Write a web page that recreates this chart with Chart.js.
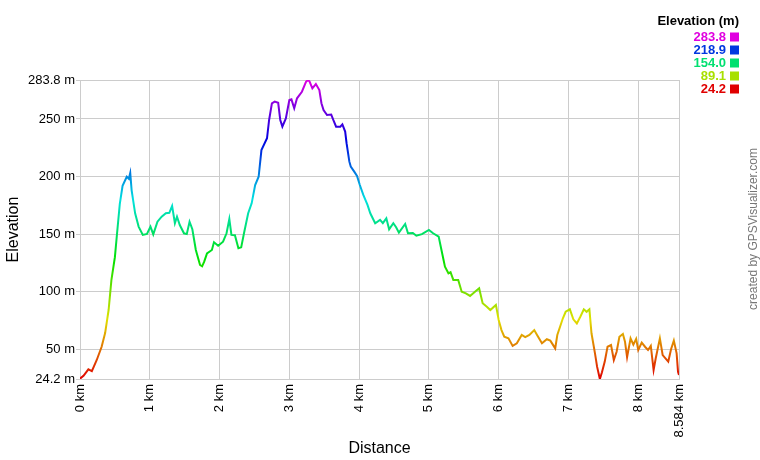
<!DOCTYPE html>
<html>
<head>
<meta charset="utf-8">
<script src="https://cdn.jsdelivr.net/npm/chart.js@4/dist/chart.umd.min.js"></script>
<style>
  body { margin: 0; background: #fff; }
  #wrap { width: 760px; height: 460px; }
</style>
</head>
<body>
<div id="wrap"><canvas id="elevChart" width="760" height="460"></canvas></div>
<script>
// distance along the track (km) and elevation (m)
const distKm = [0.00, 0.05, 0.12, 0.17, 0.24, 0.31, 0.36, 0.41, 0.45, 0.50, 0.53, 0.57, 0.61, 0.67, 0.70, 0.72, 0.74, 0.79, 0.84, 0.90,
  0.96, 1.01, 1.05, 1.11, 1.17, 1.23, 1.28, 1.32, 1.36, 1.39, 1.43, 1.49, 1.53, 1.57, 1.61, 1.66, 1.72, 1.75, 1.78, 1.82,
  1.89, 1.92, 1.98, 2.05, 2.10, 2.14, 2.17, 2.22, 2.27, 2.31, 2.35, 2.41, 2.46, 2.51, 2.56, 2.60, 2.68, 2.71, 2.75, 2.79,
  2.84, 2.87, 2.90, 2.95, 3.00, 3.03, 3.07, 3.11, 3.18, 3.24, 3.27, 3.29, 3.33, 3.38, 3.43, 3.46, 3.49, 3.54, 3.60, 3.63,
  3.67, 3.73, 3.76, 3.80, 3.82, 3.86, 3.88, 3.93, 3.97, 4.01, 4.06, 4.12, 4.16, 4.23, 4.30, 4.34, 4.39, 4.43, 4.49, 4.53,
  4.57, 4.66, 4.70, 4.77, 4.82, 4.90, 5.00, 5.06, 5.14, 5.18, 5.23, 5.28, 5.31, 5.35, 5.42, 5.47, 5.53, 5.59, 5.66, 5.72,
  5.77, 5.83, 5.88, 5.96, 6.00, 6.04, 6.08, 6.14, 6.20, 6.26, 6.33, 6.38, 6.44, 6.51, 6.55, 6.62, 6.69, 6.74, 6.81, 6.84,
  6.92, 6.96, 7.02, 7.07, 7.12, 7.17, 7.22, 7.26, 7.30, 7.33, 7.38, 7.41, 7.45, 7.48, 7.52, 7.56, 7.61, 7.65, 7.69, 7.73,
  7.78, 7.81, 7.84, 7.89, 7.93, 7.97, 8.00, 8.05, 8.10, 8.14, 8.18, 8.22, 8.25, 8.31, 8.35, 8.43, 8.47, 8.51, 8.55, 8.57,
  8.584];
const elevM = [24.5, 27, 32.6, 31.1, 40.7, 52.2, 64.1, 84.1, 110, 130, 150, 176, 192, 199.8, 198, 203, 188, 168, 156.5, 149.3,
  150.1, 156.5, 149.8, 160.8, 165.1, 168.1, 168.5, 174.4, 159.4, 165.1, 157.9, 150.7, 150, 160.8, 154.2, 136.2, 123.2, 122, 126.1, 133.3,
  136.2, 142.9, 139.9, 143.4, 150.7, 163.1, 149.3, 149, 137.7, 138.5, 150.7, 168.1, 176.7, 192.6, 199.8, 223, 233.2, 249.1, 263.6, 265,
  264, 249.1, 243.3, 250.5, 266.4, 267, 259.2, 267.9, 273.6, 282.3, 283.8, 282.5, 276.6, 280.3, 275.1, 263.6, 257.8, 253.4, 253.8, 249.1,
  243.3, 243.3, 245.3, 239, 228.9, 212.9, 208.6, 204.2, 200.5, 192.6, 184, 175.3, 168.1, 159.4, 162.3, 159.5, 163.7, 154.2, 159.4, 156,
  151.3, 158.8, 150.7, 151, 148.6, 150, 153.6, 150.7, 147.8, 136.2, 121.7, 116, 117, 110.2, 110.2, 100, 98.6, 96.3, 100, 103,
  90, 87, 84.1, 88.5, 75.4, 66.7, 60.9, 59.5, 52.9, 55.2, 62.4, 60.5, 62.4, 66.7, 62.4, 55.2, 58.7, 57.5, 50.8, 62.4,
  76.9, 82.6, 84.7, 76, 72.5, 78.3, 84.7, 82.5, 84.7, 63.9, 46.5, 34.9, 24.2, 30, 39.3, 52.2, 53.7, 40.7, 47.9, 60.9,
  63.3, 56.6, 43.1, 59.5, 54, 59, 49.4, 55.8, 52, 49.4, 53, 32, 42, 59.5, 45, 39.3, 50, 57.5, 46.5, 30.5,
  27.6];

const xTicks = [0, 1, 2, 3, 4, 5, 6, 7, 8, 8.584];
const yTicks = [24.2, 50, 100, 150, 200, 250, 283.8];
const legendValues = [283.8, 218.9, 154.0, 89.1, 24.2];

const minElev = 24.2, maxElev = 283.8;

// colour ramp: red at the lowest point, magenta at the highest
function elevColor(v) {
  const f = (v - minElev) / (maxElev - minElev);
  return "hsl(" + (f * 300).toFixed(1) + ", 100%, 44%)";
}

function lineGradient(context) {
  const chart = context.chart;
  const area = chart.chartArea;
  if (!area) return "#f00";
  const yScale = chart.scales.y;
  const g = chart.ctx.createLinearGradient(0, yScale.getPixelForValue(minElev), 0, yScale.getPixelForValue(maxElev));
  for (let i = 0; i <= 10; i++) {
    g.addColorStop(i / 10, elevColor(minElev + (maxElev - minElev) * i / 10));
  }
  return g;
}

const extras = {
  id: "extras",
  afterDraw(chart) {
    const ctx = chart.ctx;
    ctx.save();
    // legend box, top right
    ctx.font = "bold 13px 'Liberation Sans', Arial, sans-serif";
    ctx.textAlign = "right";
    ctx.textBaseline = "middle";
    ctx.fillStyle = "#000";
    ctx.fillText("Elevation (m)", 739, 21);
    legendValues.forEach((v, i) => {
      const y = 37 + i * 13;
      ctx.fillStyle = elevColor(v);
      ctx.fillText(v.toFixed(1), 726, y);
      ctx.fillRect(730, y - 4.5, 9, 9);
    });
    // credit line on the right edge
    ctx.translate(754, 229);
    ctx.rotate(-Math.PI / 2);
    ctx.font = "12px 'Liberation Sans', Arial, sans-serif";
    ctx.textAlign = "center";
    ctx.fillStyle = "#777";
    ctx.fillText("created by GPSVisualizer.com", 0, 0);
    ctx.restore();
  }
};

Chart.defaults.font.family = "'Liberation Sans', Arial, sans-serif";
Chart.defaults.color = "#000";

new Chart(document.getElementById("elevChart"), {
  type: "line",
  data: {
    datasets: [{
      data: distKm.map((d, i) => ({ x: d, y: elevM[i] })),
      borderColor: lineGradient,
      borderWidth: 2,
      pointRadius: 0,
      tension: 0,
      fill: false
    }]
  },
  options: {
    responsive: false,
    animation: false,
    layout: { padding: { top: 80, right: 81, left: 0, bottom: 0 } },
    plugins: { legend: { display: false }, tooltip: { enabled: false } },
    scales: {
      x: {
        type: "linear",
        min: 0,
        max: 8.584,
        afterBuildTicks: (s) => { s.ticks = xTicks.map(v => ({ value: v })); },
        afterFit: (s) => { s.height = 81; },
        grid: { color: "#cccccc", drawTicks: false },
        border: { color: "#cccccc" },
        ticks: {
          autoSkip: false,
          minRotation: 90,
          maxRotation: 90,
          padding: 5,
          font: { size: 13 },
          callback: (v) => v + " km"
        },
        title: { display: true, text: "Distance", font: { size: 16 }, padding: { top: 0, bottom: 2 } }
      },
      y: {
        min: minElev,
        max: maxElev,
        afterBuildTicks: (s) => { s.ticks = yTicks.map(v => ({ value: v })); },
        afterFit: (s) => { s.width = 80; },
        grid: { color: "#cccccc", drawTicks: true, tickLength: 4, tickColor: "#cccccc" },
        border: { color: "#cccccc" },
        ticks: {
          autoSkip: false,
          padding: 1,
          font: { size: 13 },
          callback: (v) => v + " m"
        },
        title: { display: true, text: "Elevation", font: { size: 16 }, padding: { top: 4, bottom: 0 } }
      }
    }
  },
  plugins: [extras]
});
</script>
</body>
</html>
